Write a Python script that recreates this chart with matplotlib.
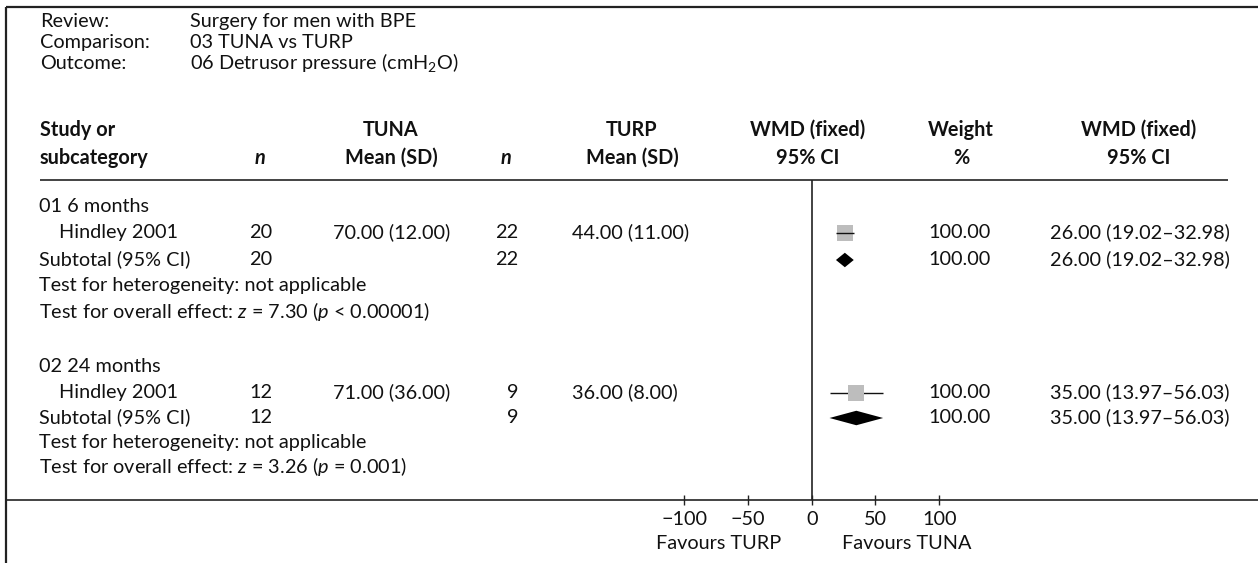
import matplotlib
matplotlib.use("Agg")
import matplotlib.pyplot as plt
from matplotlib.patches import Polygon

plt.rcParams["font.family"] = ["Lato", "DejaVu Sans"]
plt.rcParams["mathtext.fontset"] = "custom"
plt.rcParams["mathtext.rm"] = "Lato"
plt.rcParams["mathtext.it"] = "Lato:italic"
plt.rcParams["mathtext.bf"] = "Lato:bold"

# ---- data -------------------------------------------------------------
review = "Surgery for men with BPE"
comparison = "03 TUNA vs TURP"
outcome = "06 Detrusor pressure (cmH$_2$O)"

groups = ["01 6 months", "02 24 months"]
studies = ["Hindley 2001", "Hindley 2001"]
tuna_n = [20, 12]
tuna_mean = [70.00, 71.00]
tuna_sd = [12.00, 36.00]
turp_n = [22, 9]
turp_mean = [44.00, 36.00]
turp_sd = [11.00, 8.00]
wmd = [26.00, 35.00]
ci_lo = [19.02, 13.97]
ci_hi = [32.98, 56.03]
weights = [100.00, 100.00]
sub_wmd = [26.00, 35.00]
sub_lo = [19.02, 13.97]
sub_hi = [32.98, 56.03]
z_vals = [7.30, 3.26]
p_texts = ["$p$ < 0.00001", "$p$ = 0.001"]
ticks = [-100, -50, 0, 50, 100]
left_label = "Favours TURP"
right_label = "Favours TUNA"

# ---- figure ------------------------------------------------------------
W, H, DPI = 1258, 563, 100
fig = plt.figure(figsize=(W / DPI, H / DPI), dpi=DPI)
tab = fig.add_axes([0, 0, 1, 1])
tab.set_xlim(0, W)
tab.set_ylim(H, 0)
tab.axis("off")

FS = 14.3
INK = "#111111"

def txt(x, y, s, ha="left", bold=False, italic=False, size=FS):
    tab.text(x, y, s, ha=ha, va="baseline", fontsize=size, color=INK,
             fontweight="bold" if bold else "normal",
             fontstyle="italic" if italic else "normal")

# frame
tab.plot([6, W], [7, 7], color="#222222", lw=1.6, solid_capstyle="butt")
tab.plot([6, 6], [7, H], color="#222222", lw=1.6, solid_capstyle="butt")

# review block
for y, lab, val in [(27, "Review:", review), (48, "Comparison:", comparison),
                    (69, "Outcome:", outcome)]:
    txt(40, y, lab)
    txt(190, y, val)

# column headers
HB1, HB2 = 136, 164
txt(40, HB1, "Study or", bold=True)
txt(40, HB2, "subcategory", bold=True)
txt(260, HB2, "n", ha="center", bold=True, italic=True)
txt(391, HB1, "TUNA", ha="center", bold=True)
txt(391, HB2, "Mean (SD)", ha="center", bold=True)
txt(506, HB2, "n", ha="center", bold=True, italic=True)
txt(632, HB1, "TURP", ha="center", bold=True)
txt(632, HB2, "Mean (SD)", ha="center", bold=True)
txt(808, HB1, "WMD (fixed)", ha="center", bold=True)
txt(808, HB2, "95% CI", ha="center", bold=True)
txt(961, HB1, "Weight", ha="center", bold=True)
txt(961, HB2, "%", ha="center", bold=True)
txt(1139, HB1, "WMD (fixed)", ha="center", bold=True)
txt(1139, HB2, "95% CI", ha="center", bold=True)

tab.plot([40, 1228], [180, 180], color="#222222", lw=1.2, solid_capstyle="butt")

# row baselines for each group block
blocks = [[212, 238, 265, 291.5, 318], [372, 398, 423, 448, 473]]

# ---- forest axes -------------------------------------------------------
ZERO_PX, PX_PER_UNIT = 811.7, 1.275
AX_L, AX_R, AX_T, AX_B = 7, W, 180, 500
fx = fig.add_axes([AX_L / W, (H - AX_B) / H, (AX_R - AX_L) / W, (AX_B - AX_T) / H])
fx.set_xlim((AX_L - ZERO_PX) / PX_PER_UNIT, (AX_R - ZERO_PX) / PX_PER_UNIT)
fx.set_ylim(AX_B, AX_T)
fx.patch.set_alpha(0)
for side in ("top", "right", "left"):
    fx.spines[side].set_visible(False)
fx.spines["bottom"].set_linewidth(1.2)
fx.spines["bottom"].set_color("#222222")
fx.set_yticks([])
fx.set_xticks(ticks)
fx.set_xticklabels([f"{t}".replace("-", "\u2212") for t in ticks], fontsize=FS, color=INK)
fx.tick_params(axis="x", direction="inout", length=7.5, width=1.0, pad=4.0,
               color="#222222")
fx.axvline(0, color="#222222", lw=1.2)

BOX_PX = 16.5
DIAM_H = 14.5
for g in range(len(groups)):
    b = blocks[g]
    txt(39, b[0], groups[g])
    txt(59, b[1], studies[g])
    txt(272, b[1], f"{tuna_n[g]}", ha="right")
    txt(333, b[1], f"{tuna_mean[g]:.2f} ({tuna_sd[g]:.2f})")
    txt(518, b[1], f"{turp_n[g]}", ha="right")
    txt(572, b[1], f"{turp_mean[g]:.2f} ({turp_sd[g]:.2f})")
    txt(928, b[1], f"{weights[g]:.2f}")
    txt(1050, b[1], f"{wmd[g]:.2f} ({ci_lo[g]:.2f}\u2013{ci_hi[g]:.2f})")

    txt(39, b[2], "Subtotal (95% CI)")
    txt(272, b[2], f"{tuna_n[g]}", ha="right")
    txt(518, b[2], f"{turp_n[g]}", ha="right")
    txt(928, b[2], f"{weights[g]:.2f}")
    txt(1050, b[2], f"{sub_wmd[g]:.2f} ({sub_lo[g]:.2f}\u2013{sub_hi[g]:.2f})")

    txt(39, b[3], "Test for heterogeneity: not applicable")
    txt(39, b[4], f"Test for overall effect: $z$ = {z_vals[g]:.2f} ({p_texts[g]})")

    # study estimate: grey box with CI line (line drawn over a box it barely exceeds)
    yc = b[1] - 5.5
    box_units = BOX_PX / PX_PER_UNIT
    line_on_top = (ci_hi[g] - ci_lo[g]) <= 1.5 * box_units
    fx.plot([ci_lo[g], ci_hi[g]], [yc, yc], color="#111111", lw=1.0,
            zorder=4 if line_on_top else 2, solid_capstyle="butt")
    fx.plot([wmd[g]], [yc], marker="s", markersize=BOX_PX * 0.72,
            color="#bdbdbd", markeredgewidth=0, zorder=3, linestyle="none")

    # pooled estimate diamond
    yd = b[2] - 5
    fx.add_patch(Polygon([(sub_lo[g], yd), (sub_wmd[g], yd - DIAM_H / 2),
                          (sub_hi[g], yd), (sub_wmd[g], yd + DIAM_H / 2)],
                         closed=True, facecolor="black", edgecolor="none", zorder=3))

# favours labels under the axis
tab.text(ZERO_PX - 93, 549, left_label, ha="center", va="baseline", fontsize=FS, color=INK)
tab.text(ZERO_PX + 95, 549, right_label, ha="center", va="baseline", fontsize=FS, color=INK)

fig.savefig("out.png", dpi=DPI)
